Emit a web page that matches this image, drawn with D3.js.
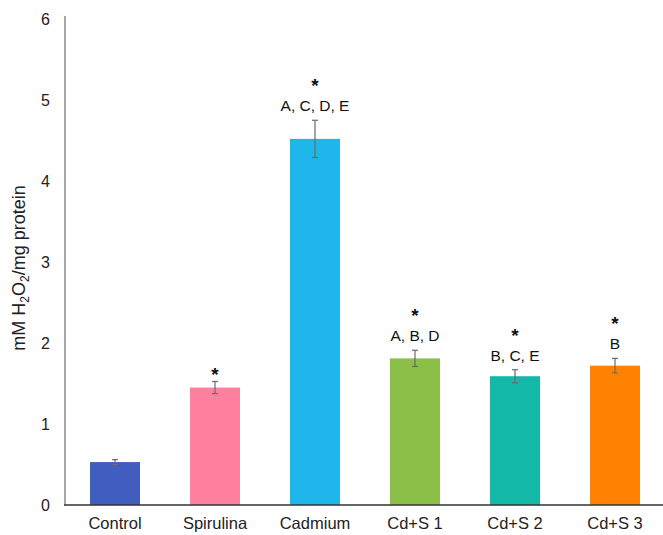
<!DOCTYPE html>
<html><head><meta charset="utf-8">
<script src="https://cdn.jsdelivr.net/npm/d3@7"></script>
<style>body{margin:0;background:#fff}svg{display:block;font-family:"Liberation Sans",Arial,sans-serif}</style>
</head><body><svg id="c" width="663" height="535"></svg>
<script>
const categories = ["Control","Spirulina","Cadmium","Cd+S 1","Cd+S 2","Cd+S 3"];
const values = [0.53, 1.45, 4.52, 1.81, 1.59, 1.72];
const errors = [0.03, 0.075, 0.23, 0.1, 0.08, 0.09];
const letters = ["", "", "A, C, D, E", "A, B, D", "B, C, E", "B"];
const stars = [false, true, true, true, true, true];
const colors = ["#415DBF","#FF7F9E","#1FB7EB","#8BBF48","#13B8A6","#FF8200"];
const yTicks = [0,1,2,3,4,5,6];

const svg = d3.select("#c");
const x = d3.scaleBand().domain(categories).range([65, 665]).paddingInner(0.5).paddingOuter(0.25);
const y = d3.scaleLinear().domain([0, 6]).range([505, 19]);

// bars
svg.selectAll("rect.bar").data(categories).join("rect")
  .attr("class","bar")
  .attr("x", d => x(d))
  .attr("width", x.bandwidth())
  .attr("y", (d,i) => y(values[i]))
  .attr("height", (d,i) => y(0) - y(values[i]))
  .attr("fill", (d,i) => colors[i]);

// error bars
const eb = svg.append("g").attr("stroke","#6b6b6b").attr("stroke-width",1.2);
categories.forEach((c,i) => {
  const cx = x(c) + x.bandwidth()/2;
  const t = y(values[i] + errors[i]), b = y(values[i] - errors[i]);
  eb.append("line").attr("x1",cx).attr("x2",cx).attr("y1",t).attr("y2",b);
  eb.append("line").attr("x1",cx-3).attr("x2",cx+3).attr("y1",t).attr("y2",t);
  eb.append("line").attr("x1",cx-3).attr("x2",cx+3).attr("y1",b).attr("y2",b);
});

// annotations
categories.forEach((c,i) => {
  const cx = x(c) + x.bandwidth()/2;
  const t = y(values[i] + errors[i]);
  let starBase;
  if (letters[i]) {
    const lb = t - 9;
    svg.append("text").attr("x",cx).attr("y",lb).attr("text-anchor","middle")
      .attr("font-size",15.5).attr("fill","#111").text(letters[i]);
    starBase = lb - 19;
  } else {
    starBase = t;
  }
  if (stars[i]) {
    svg.append("text").attr("x",cx).attr("y",starBase).attr("text-anchor","middle")
      .attr("font-size",19).attr("font-weight","bold").attr("fill","#111").text("*");
  }
});

// y axis
const ya = svg.append("g").attr("transform","translate(65,0)")
  .call(d3.axisLeft(y).tickValues(yTicks).tickFormat(d3.format("d")).tickSize(0).tickPadding(15));
ya.select(".domain").attr("stroke","#8a8a8a").attr("stroke-width",1.5).attr("d","M0,16V505");
ya.selectAll("text").attr("font-size",16).attr("fill","#222").attr("font-family","Liberation Sans, Arial, sans-serif");

// x axis
const xa = svg.append("g").attr("transform","translate(0,505)")
  .call(d3.axisBottom(x).tickSize(0).tickPadding(12));
xa.select(".domain").attr("stroke","#333").attr("stroke-width",1.5).attr("d","M64,0H663");
xa.selectAll("text").attr("font-size",16.5).attr("fill","#222").attr("font-family","Liberation Sans, Arial, sans-serif");

// y title
const yt = svg.append("text").attr("transform","translate(25,268) rotate(-90)")
  .attr("text-anchor","middle").attr("font-size",18).attr("fill","#222");
yt.append("tspan").text("mM H");
yt.append("tspan").attr("font-size",12).attr("dy",4).text("2");
yt.append("tspan").attr("dy",-4).text("O");
yt.append("tspan").attr("font-size",12).attr("dy",4).text("2");
yt.append("tspan").attr("dy",-4).text("/mg protein");
</script></body></html>
